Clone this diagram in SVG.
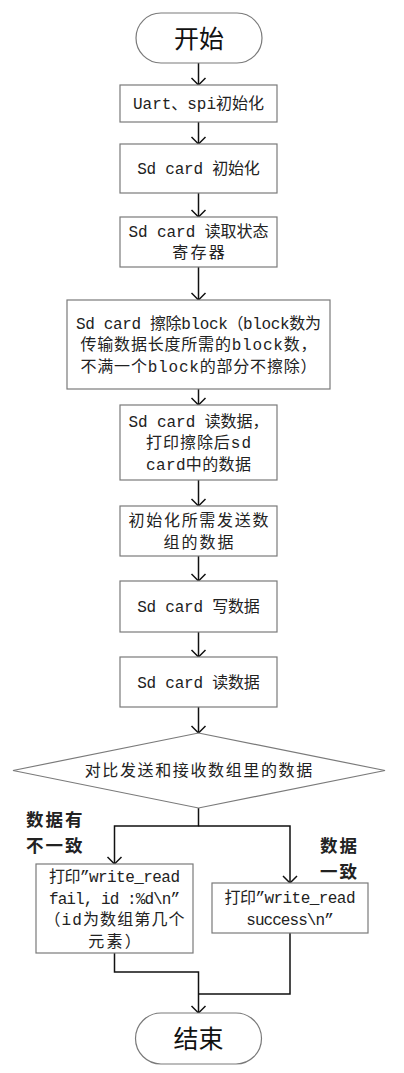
<svg xmlns="http://www.w3.org/2000/svg" width="404" height="1073" viewBox="0 0 404 1073">
<style>
.shape{fill:#fff;stroke:#7a7a7a;stroke-width:1.2}
.t{font-family:"Liberation Mono","Noto Sans CJK SC",monospace;font-size:16px;fill:#222;text-anchor:middle}
.big{font-family:"Noto Sans CJK SC",sans-serif;font-size:25px;fill:#111;text-anchor:middle}
.lbl{font-family:"Noto Sans CJK SC",sans-serif;font-size:17.5px;letter-spacing:2px;font-weight:bold;fill:#222}
.conn{fill:none;stroke:#111;stroke-width:1.5}
</style>
<defs>
<marker id="arr" markerUnits="userSpaceOnUse" markerWidth="16" markerHeight="16" viewBox="-8 -8 16 16" refX="0" refY="0" orient="auto" overflow="visible">
<path d="M-7,-7 L0,0 L-7,7" fill="none" stroke="#111" stroke-width="1.5"/>
</marker>
</defs>
<rect width="404" height="1073" fill="#fff"/>
<g id="connectors" class="conn">
<path d="M198.5,63 V85" marker-end="url(#arr)"/>
<path d="M198.5,122 V144" marker-end="url(#arr)"/>
<path d="M198.5,193 V217" marker-end="url(#arr)"/>
<path d="M198.5,267 V300" marker-end="url(#arr)"/>
<path d="M198.5,389 V405" marker-end="url(#arr)"/>
<path d="M198.5,480 V506" marker-end="url(#arr)"/>
<path d="M198.5,556 V581" marker-end="url(#arr)"/>
<path d="M198.5,632 V657" marker-end="url(#arr)"/>
<path d="M198.5,707 V733" marker-end="url(#arr)"/>
<path d="M198.5,808 V826 H114.5 V864" marker-end="url(#arr)"/>
<path d="M198.5,826 H290 V883" marker-end="url(#arr)"/>
<path d="M114.5,953 V972 H198.5 V1013" marker-end="url(#arr)"/>
<path d="M290,933 V994 H198.5"/>
</g>
<g id="start"><rect class="shape" x="136" y="13" width="126" height="50" rx="25"/><text class="big" x="199" y="47.5">开始</text></g>
<g id="n1"><rect class="shape" x="120" y="85" width="157" height="37"/><text class="t" x="198.5" y="109" textLength="131">Uart、spi初始化</text></g>
<g id="n2"><rect class="shape" x="120" y="144" width="157" height="49"/><text class="t" x="198.5" y="174" textLength="122.5">Sd card 初始化</text></g>
<g id="n3"><rect class="shape" x="120" y="217" width="157" height="50"/><text class="t" x="198.5" y="237" textLength="140">Sd card 读取状态</text><text class="t" x="198.5" y="258" textLength="52.5">寄存器</text></g>
<g id="n4"><rect class="shape" x="67" y="300" width="263" height="89"/><text class="t" x="198.5" y="328.6" textLength="245">Sd card 擦除block（block数为</text><text class="t" x="198.5" y="350" textLength="236">传输数据长度所需的block数，</text><text class="t" x="198.5" y="371.6" textLength="236">不满一个block的部分不擦除）</text></g>
<g id="n5"><rect class="shape" x="120" y="405" width="157" height="75"/><text class="t" x="198.5" y="426.6" textLength="140">Sd card 读数据，</text><text class="t" x="198.5" y="448" textLength="105">打印擦除后sd</text><text class="t" x="198.5" y="469.6" textLength="105">card中的数据</text></g>
<g id="n6"><rect class="shape" x="120" y="506" width="157" height="50"/><text class="t" x="198.5" y="526" textLength="140">初始化所需发送数</text><text class="t" x="198.5" y="547.5" textLength="70">组的数据</text></g>
<g id="n7"><rect class="shape" x="120" y="581" width="157" height="51"/><text class="t" x="198.5" y="612" textLength="122.5">Sd card 写数据</text></g>
<g id="n8"><rect class="shape" x="120" y="657" width="157" height="50"/><text class="t" x="198.5" y="687.5" textLength="122.5">Sd card 读数据</text></g>
<g id="decision"><polygon class="shape" points="198.5,733 385,770.5 198.5,808 13,770.5"/><text class="t" x="198.5" y="776" textLength="227.5">对比发送和接收数组里的数据</text></g>
<g id="fail"><rect class="shape" x="36" y="864" width="157" height="89"/><text class="t" x="114.5" y="882" textLength="131">打印”write_read</text><text class="t" x="114.5" y="903.5" textLength="131">fail, id :%d\n”</text><text class="t" x="114.5" y="925" textLength="140">（id为数组第几个</text><text class="t" x="114.5" y="946.5" textLength="52.5">元素）</text></g>
<g id="success"><rect class="shape" x="212" y="883" width="156" height="50"/><text class="t" x="290" y="903" textLength="131">打印”write_read</text><text class="t" x="290" y="924.5" textLength="87.5">success\n”</text></g>
<g id="end"><rect class="shape" x="135.5" y="1013" width="126" height="51" rx="25.5"/><text class="big" x="198.5" y="1048">结束</text></g>
<g id="labels"><text class="lbl" x="26" y="826">数据有</text><text class="lbl" x="26" y="852">不一致</text><text class="lbl" x="320" y="852">数据</text><text class="lbl" x="320" y="878">一致</text></g>
</svg>
